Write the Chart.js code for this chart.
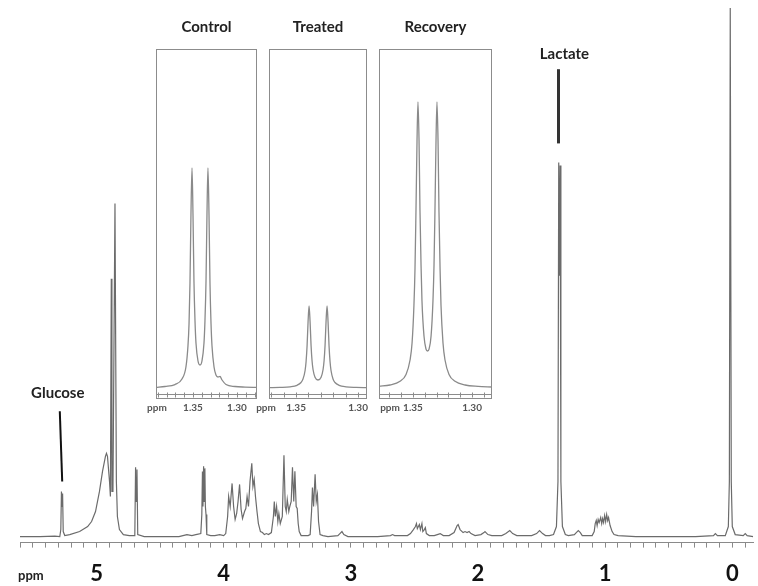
<!DOCTYPE html>
<html>
<head>
<meta charset="utf-8">
<script src="https://cdn.jsdelivr.net/npm/chart.js@4.4.0/dist/chart.umd.min.js"></script>
<style>
  body { margin: 0; background: #fff; }
  #wrap { position: relative; width: 758px; height: 586px; overflow: hidden; }
  canvas { position: absolute; }
  #mainChart { left: 0; top: 0; }
  #controlChart { left: 142px; top: 10px; }
  #treatedChart { left: 255px; top: 10px; }
  #recoveryChart { left: 365px; top: 10px; }
</style>
</head>
<body>
<div id="wrap">
  <canvas id="mainChart" width="758" height="600"></canvas>
  <canvas id="controlChart" width="121" height="411"></canvas>
  <canvas id="treatedChart" width="118" height="411"></canvas>
  <canvas id="recoveryChart" width="133" height="411"></canvas>
</div>
<script>
// full 1H spectrum, chemical shift (ppm) and intensity
const spectrumPpm = [
  5.602, 5.445, 5.328, 5.289, 5.281, 5.276, 5.271, 5.267, 5.262, 5.25,
  5.211, 5.133, 5.070, 5.039, 5.008, 4.977, 4.953, 4.930, 4.922, 4.914,
  4.898, 4.891, 4.884, 4.879, 4.871, 4.855, 4.844, 4.836, 4.820, 4.789,
  4.742, 4.699, 4.693, 4.688, 4.682, 4.676, 4.625, 4.352, 4.289, 4.25,
  4.219, 4.180, 4.172, 4.167, 4.163, 4.158, 4.153, 4.148, 4.144, 4.139,
  4.133, 4.102, 4.070, 4.031, 4.0, 3.984, 3.969, 3.961, 3.949, 3.934,
  3.922, 3.910, 3.898, 3.887, 3.875, 3.863, 3.852, 3.836, 3.826, 3.816,
  3.805, 3.793, 3.779, 3.770, 3.760, 3.75, 3.738, 3.727, 3.711, 3.695,
  3.680, 3.664, 3.648, 3.625, 3.609, 3.602, 3.594, 3.584, 3.574, 3.566,
  3.555, 3.539, 3.526, 3.516, 3.508, 3.5, 3.488, 3.480, 3.469, 3.459,
  3.449, 3.440, 3.430, 3.422, 3.414, 3.406, 3.391, 3.336, 3.320, 3.309,
  3.302, 3.293, 3.281, 3.272, 3.263, 3.254, 3.242, 3.219, 3.180, 3.102,
  3.086, 3.070, 3.055, 3.023, 2.789, 2.688, 2.672, 2.656, 2.555, 2.531,
  2.508, 2.492, 2.484, 2.477, 2.469, 2.461, 2.453, 2.441, 2.434, 2.422,
  2.414, 2.406, 2.383, 2.344, 2.320, 2.297, 2.273, 2.227, 2.188, 2.164,
  2.156, 2.141, 2.117, 2.102, 2.086, 2.070, 2.055, 2.023, 1.977, 1.953,
  1.945, 1.922, 1.891, 1.813, 1.781, 1.75, 1.727, 1.695, 1.578, 1.539,
  1.516, 1.492, 1.469, 1.438, 1.406, 1.383, 1.371, 1.365, 1.359, 1.354,
  1.348, 1.336, 1.313, 1.289, 1.242, 1.227, 1.211, 1.195, 1.180, 1.102,
  1.086, 1.078, 1.070, 1.063, 1.055, 1.047, 1.035, 1.027, 1.020, 1.012,
  1.004, 0.996, 0.988, 0.980, 0.973, 0.961, 0.945, 0.930, 0.898, 0.758,
  0.289, 0.148, 0.133, 0.117, 0.055, 0.031, 0.023, 0.016, 0.008, 0,
  -0.023, -0.086, -0.102, -0.117, -0.164
];
const spectrumIntensity = [
  0, 0, 0.5, 0, 7, 45, 30, 43, 5, 1,
  2, 5, 10, 15, 25, 45, 65, 80, 83, 80,
  55, 40, 257, 45, 45, 332, 55, 20, 7, 2,
  1, 1, 69, 35, 67, 2, 0, 0, 2, 1,
  2, 3, 22, 65, 30, 70, 35, 68, 30, 22,
  2, 1, 1, 2, 1, 3, 20, 40, 30, 53,
  30, 17, 23, 35, 52, 27, 18, 25, 28, 40,
  30, 55, 73, 50, 57, 40, 25, 13, 5, 4,
  2, 3, 2, 4, 20, 35, 20, 30, 15, 23,
  13, 20, 81, 30, 25, 37, 25, 30, 35, 69,
  35, 65, 30, 28, 13, 5, 1, 1, 2, 25,
  49, 30, 62, 35, 42, 15, 2, 1, 0, 1,
  3, 5, 2, 0, 0, 1, 2, 1, 1, 3,
  7, 10, 13, 8, 10, 12, 7, 13, 5, 7,
  9, 3, 1, 1, 2, 3, 1, 1, 4, 11,
  12, 7, 4, 5, 4, 5, 3, 1, 2, 4,
  5, 2, 1, 1, 3, 6, 3, 1, 1, 3,
  6, 3, 1, 1, 2, 10, 55, 373, 260, 370,
  55, 10, 2, 1, 2, 4, 6, 4, 1, 1,
  5, 13, 16, 11, 17, 14, 19, 13, 18, 14,
  21, 15, 22, 16, 19, 11, 5, 2, 1, 0,
  0, 1, 3, 1, 1, 10, 55, 527, 55, 10,
  2, 1, 3, 1, 0
];
const axisLabels = [0, 1, 2, 3, 4, 5];

// lactate doublet in the three insets
const controlPpm = [1.3920, 1.3818, 1.3705, 1.3625, 1.3580, 1.3557, 1.3545, 1.3534, 1.3523, 1.3511, 1.3500, 1.3489, 1.3477, 1.3466, 1.3443, 1.3420, 1.3398, 1.3375, 1.3364, 1.3352, 1.3341, 1.3330, 1.3318, 1.3307, 1.3295, 1.3284, 1.3261, 1.3239, 1.3216, 1.3193, 1.3170, 1.3125, 1.3023, 1.2909, 1.2773];
const controlIntensity = [0.6, 1.5, 3.4, 9, 21, 42, 64, 105, 173, 220, 174, 107, 67, 45, 27, 23, 27, 45, 67, 107, 174, 220, 173, 105, 64, 42, 21, 13, 11, 11.5, 8, 3.5, 1.5, 0.9, 0.6];
const treatedPpm = [1.3718, 1.3629, 1.3548, 1.3492, 1.3460, 1.3444, 1.3427, 1.3419, 1.3411, 1.3403, 1.3395, 1.3387, 1.3379, 1.3371, 1.3363, 1.3347, 1.3323, 1.3298, 1.3282, 1.3274, 1.3266, 1.3258, 1.3250, 1.3242, 1.3234, 1.3226, 1.3218, 1.3202, 1.3186, 1.3153, 1.3097, 1.3016, 1.2928];
const treatedIntensity = [0.3, 0.6, 1.2, 2.7, 5.5, 9, 17.5, 26.5, 42.3, 66.4, 82, 66.6, 42.8, 27.2, 18.5, 10.8, 8, 10.8, 18.5, 27.2, 42.8, 66.6, 82, 66.4, 42.3, 26.5, 17.5, 9, 5.5, 2.7, 1.2, 0.6, 0.3];
const recoveryPpm = [1.3788, 1.3695, 1.3610, 1.3559, 1.3525, 1.3508, 1.3492, 1.3483, 1.3475, 1.3466, 1.3458, 1.3449, 1.3441, 1.3432, 1.3424, 1.3407, 1.3390, 1.3377, 1.3364, 1.3347, 1.3331, 1.3322, 1.3314, 1.3305, 1.3297, 1.3288, 1.3280, 1.3271, 1.3263, 1.3246, 1.3229, 1.3195, 1.3144, 1.3059, 1.2949, 1.2831];
const recoveryIntensity = [1.7, 3, 6.7, 13.6, 28, 45, 83, 120, 176, 247, 286, 248, 178, 123, 87, 52, 39, 37, 39, 52, 87, 123, 178, 248, 286, 247, 176, 120, 83, 45, 28, 13.6, 6.7, 3, 1.6, 1.0];
const insetLabels = [1.35, 1.30];

const toPoints = (xs, ys) => xs.map((x, i) => ({ x: x, y: ys[i] }));

// metabolite markers (label + short line) in data units
const markers = [
  { text: 'Glucose', textX: 5.305, textY: 143, x1: 5.289, y1: 125, x2: 5.270, y2: 55, color: '#111', width: 2 },
  { text: 'Lactate', textX: 1.320, textY: 481, x1: 1.367, y1: 466, x2: 1.367, y2: 392, color: '#333', width: 3 }
];

const spectrumNotes = {
  id: 'spectrumNotes',
  afterDraw(chart) {
    const c = chart.ctx, xs = chart.scales.x, ys = chart.scales.y;
    c.save();
    markers.forEach(m => {
      c.strokeStyle = m.color;
      c.lineWidth = m.width;
      c.beginPath();
      c.moveTo(xs.getPixelForValue(m.x1), ys.getPixelForValue(m.y1));
      c.lineTo(xs.getPixelForValue(m.x2), ys.getPixelForValue(m.y2));
      c.stroke();
      c.fillStyle = '#222';
      c.font = 'bold 15px Lato';
      c.textAlign = 'center';
      c.textBaseline = 'middle';
      c.fillText(m.text, xs.getPixelForValue(m.textX), ys.getPixelForValue(m.textY));
    });
    c.font = 'bold 13px Lato';
    c.textAlign = 'left';
    c.fillText('ppm', chart.chartArea.left - 2, chart.chartArea.bottom + 33);
    c.restore();
  }
};

new Chart(document.getElementById('mainChart'), {
  type: 'line',
  data: {
    datasets: [{
      data: toPoints(spectrumPpm, spectrumIntensity),
      borderColor: '#6b6b6b',
      borderWidth: 1.2,
      pointRadius: 0,
      tension: 0,
      fill: false
    }]
  },
  options: {
    responsive: false,
    animation: false,
    layout: { padding: { left: 20, right: 0, top: 5, bottom: 0 } },
    scales: {
      x: {
        type: 'linear',
        reverse: true,
        min: -0.164,
        max: 5.602,
        border: { display: true, color: '#8a8a8a', width: 1 },
        grid: { drawOnChartArea: false, drawTicks: true, tickLength: 5, color: '#8a8a8a' },
        ticks: {
          stepSize: 0.1,
          autoSkip: false,
          maxRotation: 0,
          includeBounds: false,
          padding: 13,
          color: '#111',
          font: { family: 'Lato', weight: 'bold', size: 22 },
          callback: v => {
            const r = Math.round(v);
            return Math.abs(v - r) < 1e-6 && axisLabels.includes(r) ? String(Math.abs(r)) : '';
          }
        }
      },
      y: { display: false, min: -6, max: 530 }
    },
    plugins: { legend: { display: false }, tooltip: { enabled: false } }
  },
  plugins: [spectrumNotes]
});

const insetFrame = {
  id: 'insetFrame',
  afterDraw(chart, args, opts) {
    const c = chart.ctx, a = chart.chartArea, xs = chart.scales.x, ys = chart.scales.y;
    c.save();
    c.strokeStyle = '#8c8c8c';
    c.lineWidth = 1;
    c.strokeRect(a.left + 0.5, a.top + 0.5, a.right - a.left - 1, a.bottom - a.top - 1);
    // inner ppm axis with 0.01 ticks
    const axisY = Math.round(ys.getPixelForValue(-6)) + 0.5;
    c.beginPath();
    c.moveTo(a.left, axisY);
    c.lineTo(a.right, axisY);
    for (let t = Math.ceil(xs.min * 100); t <= Math.floor(xs.max * 100); t++) {
      const px = Math.round(xs.getPixelForValue(t / 100)) + 0.5;
      c.moveTo(px, axisY - 2);
      c.lineTo(px, axisY + 3);
    }
    c.stroke();
    c.fillStyle = '#555';
    c.font = 'bold 10px Lato';
    c.textBaseline = 'middle';
    c.textAlign = 'center';
    insetLabels.forEach(v => c.fillText(v.toFixed(2), xs.getPixelForValue(v), a.bottom + 9));
    c.fillText('ppm', xs.getPixelForValue(insetLabels[0]) + opts.ppmOffset, a.bottom + 9);
    c.fillStyle = '#222';
    c.font = 'bold 15px Lato';
    c.fillText(opts.title, (a.left + a.right) / 2, a.top - 22);
    c.restore();
  }
};

function makeInset(id, title, xs, ys, ppmOffset) {
  const min = Math.min(...xs), max = Math.max(...xs);
  return new Chart(document.getElementById(id), {
    type: 'line',
    data: {
      datasets: [{
        data: toPoints(xs, ys),
        borderColor: '#8a8a8a',
        borderWidth: 1.3,
        pointRadius: 0,
        cubicInterpolationMode: 'monotone',
        fill: false
      }]
    },
    options: {
      responsive: false,
      animation: false,
      layout: { padding: { left: 14, right: 6, top: 39, bottom: 22 } },
      scales: {
        x: { type: 'linear', reverse: true, min: min, max: max, display: false },
        y: { min: -11, max: 339, display: false }
      },
      plugins: {
        legend: { display: false },
        tooltip: { enabled: false },
        insetFrame: { title: title, ppmOffset: ppmOffset }
      }
    },
    plugins: [insetFrame]
  });
}

makeInset('controlChart', 'Control', controlPpm, controlIntensity, -36);
makeInset('treatedChart', 'Treated', treatedPpm, treatedIntensity, -30);
makeInset('recoveryChart', 'Recovery', recoveryPpm, recoveryIntensity, -23);
</script>
</body>
</html>
